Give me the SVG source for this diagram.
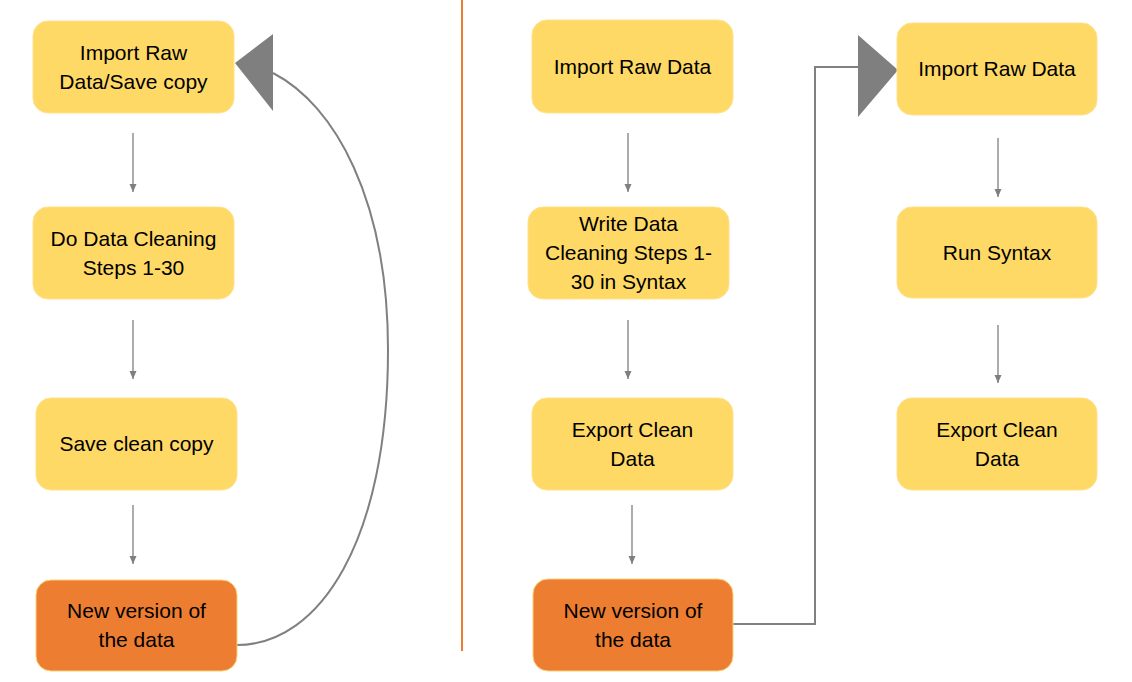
<svg xmlns="http://www.w3.org/2000/svg" width="1132" height="682" viewBox="0 0 1132 682">
<style>
.y{fill:#FFD966;stroke:#FFE08A;stroke-width:1}
.o{fill:#ED7D31;stroke:#FAD077;stroke-width:1}
text{font-family:"Liberation Sans",Arial,sans-serif;font-size:21px;fill:#000;text-anchor:middle}
.c{fill:none;stroke:#7F7F7F;stroke-width:1.3}
.big{fill:none;stroke:#808080;stroke-width:2}
.head{fill:#7F7F7F}
</style>
<defs>
<marker id="a" viewBox="0 0 8 8" refX="8" refY="4" markerWidth="8" markerHeight="8" markerUnits="userSpaceOnUse" orient="auto">
<path d="M0,0.5 L8,4 L0,7.5 Z" fill="#7F7F7F"/>
</marker>
</defs>
<rect width="1132" height="682" fill="#fff"/>
<line x1="462" y1="0" x2="462" y2="651" stroke="#ED7D31" stroke-width="2"/>
<g id="connectors">
<line class="c" x1="133" y1="133" x2="133" y2="192" marker-end="url(#a)"/>
<line class="c" x1="133" y1="320" x2="133" y2="379" marker-end="url(#a)"/>
<line class="c" x1="133" y1="505" x2="133" y2="564" marker-end="url(#a)"/>
<path class="big" d="M237,645 C320,645 388,540 388,350 C388,200 335,105 273,73"/>
<polygon class="head" points="235,63 273,34 273,111"/>
<line class="c" x1="628" y1="133" x2="628" y2="192" marker-end="url(#a)"/>
<line class="c" x1="628" y1="320" x2="628" y2="379" marker-end="url(#a)"/>
<line class="c" x1="632" y1="505" x2="632" y2="564" marker-end="url(#a)"/>
<path class="big" d="M733,624 H815 V67 H860"/>
<polygon class="head" points="858,35 898,70 858,117"/>
<line class="c" x1="998" y1="138" x2="998" y2="197" marker-end="url(#a)"/>
<line class="c" x1="998" y1="325" x2="998" y2="383" marker-end="url(#a)"/>
</g>
<g id="n1"><rect class="y" x="33" y="21" width="201" height="92" rx="15"/><text x="133.5" y="60">Import Raw</text><text x="133.5" y="89">Data/Save copy</text></g>
<g id="n2"><rect class="y" x="33" y="207" width="201" height="92" rx="15"/><text x="133.5" y="246">Do Data Cleaning</text><text x="133.5" y="275">Steps 1-30</text></g>
<g id="n3"><rect class="y" x="36" y="398" width="201" height="92" rx="15"/><text x="136.5" y="451">Save clean copy</text></g>
<g id="n4"><rect class="o" x="36" y="580" width="201" height="91" rx="15"/><text x="136.5" y="618">New version of</text><text x="136.5" y="647">the data</text></g>
<g id="n5"><rect class="y" x="532" y="20" width="201" height="93" rx="15"/><text x="632.5" y="73.5">Import Raw Data</text></g>
<g id="n6"><rect class="y" x="528" y="207" width="201" height="92" rx="15"/><text x="628.5" y="231">Write Data</text><text x="628.5" y="260">Cleaning Steps 1-</text><text x="628.5" y="289">30 in Syntax</text></g>
<g id="n7"><rect class="y" x="532" y="398" width="201" height="92" rx="15"/><text x="632.5" y="437">Export Clean</text><text x="632.5" y="466">Data</text></g>
<g id="n8"><rect class="o" x="533" y="579" width="200" height="92" rx="15"/><text x="633" y="618">New version of</text><text x="633" y="647">the data</text></g>
<g id="n9"><rect class="y" x="897" y="23" width="200" height="92" rx="15"/><text x="997" y="76">Import Raw Data</text></g>
<g id="n10"><rect class="y" x="897" y="207" width="200" height="91" rx="15"/><text x="997" y="260">Run Syntax</text></g>
<g id="n11"><rect class="y" x="897" y="398" width="200" height="92" rx="15"/><text x="997" y="437">Export Clean</text><text x="997" y="466">Data</text></g>
</svg>
